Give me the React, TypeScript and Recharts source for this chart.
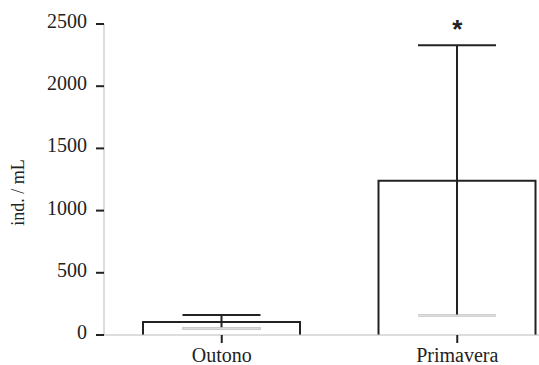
import { ComposedChart, Bar, ErrorBar, XAxis, YAxis, ReferenceDot } from 'recharts'

const categories = ['Outono', 'Primavera']
const meanVals = [104, 1240]
const upperVals = [160, 2330]
const lowerVals = [52, 154]
const signif = ['', '*']
const yTicks = [0, 500, 1000, 1500, 2000, 2500]

const data = categories.map((name, i) => ({
  name,
  mean: meanVals[i],
  err: [meanVals[i] - lowerVals[i], upperVals[i] - meanVals[i]],
  // both ends sit on the lower bound, used to grey out the lower cap
  lowCap: [meanVals[i] - lowerVals[i], lowerVals[i] - meanVals[i]],
}))

const serif = '"Liberation Serif", "Times New Roman", serif'
const dark = '#222'

// open box: sides + top, no bottom edge (axis line shows through)
function OpenBar(props: any) {
  const { x, y, width, height } = props
  return (
    <path
      d={`M${x},${y + height} L${x},${y} L${x + width},${y} L${x + width},${y + height}`}
      fill="#fff"
      stroke={dark}
      strokeWidth={2}
    />
  )
}

function YLabel(props: any) {
  const { viewBox } = props
  const cx = 18
  const cy = viewBox.y + viewBox.height / 2 + 13
  return (
    <text
      x={cx}
      y={cy}
      transform={`rotate(-90, ${cx}, ${cy})`}
      textAnchor="middle"
      dominantBaseline="central"
      fontFamily={serif}
      fontSize={18}
      fill={dark}
    >
      ind. / mL
    </text>
  )
}

function Tick(props: any) {
  const { x, y, payload, textAnchor, verticalAnchor } = props
  const dy = verticalAnchor === 'start' ? '0.71em' : '0.2em'
  return (
    <text x={x} y={y} dy={dy} textAnchor={textAnchor} fontFamily={serif} fontSize={20} fill={dark}>
      {payload.value}
    </text>
  )
}

export default function App() {
  return (
    <div style={{ position: 'fixed', left: 0, top: 0, width: 539, height: 365, overflow: 'hidden', background: '#fff', fontFamily: serif }}>
      <ComposedChart
        width={580}
        height={365}
        data={data}
        margin={{ top: 24, right: 5, left: 0, bottom: 0 }}
      >
        <XAxis
          dataKey="name"
          height={30}
          axisLine={{ stroke: '#bbb' }}
          tickLine={{ stroke: dark, strokeWidth: 2 }}
          tickSize={8}
          tickMargin={5}
          tick={<Tick />}
        />
        <YAxis
          width={104}
          domain={[0, 2500]}
          ticks={yTicks}
          interval={0}
          axisLine={{ stroke: '#bbb' }}
          tickLine={{ stroke: dark, strokeWidth: 2 }}
          tickSize={8}
          tickMargin={9}
          tick={<Tick />}
          label={<YLabel />}
        />
        <Bar dataKey="mean" barSize={157} shape={<OpenBar />} isAnimationActive={false}>
          <ErrorBar dataKey="err" width={39} stroke={dark} strokeWidth={2} />
          <ErrorBar dataKey="lowCap" width={39} stroke="#dcdcdc" strokeWidth={2} />
        </Bar>
        {categories.map((c, i) =>
          signif[i] ? (
            <ReferenceDot
              key={c}
              x={c}
              y={upperVals[i]}
              r={0}
              stroke="none"
              label={{
                value: signif[i],
                position: 'top',
                offset: 7,
                fontFamily: '"Liberation Sans", Arial, sans-serif',
                fontWeight: 'bold',
                fontSize: 26,
                fill: dark,
              }}
            />
          ) : null
        )}
      </ComposedChart>
    </div>
  )
}
